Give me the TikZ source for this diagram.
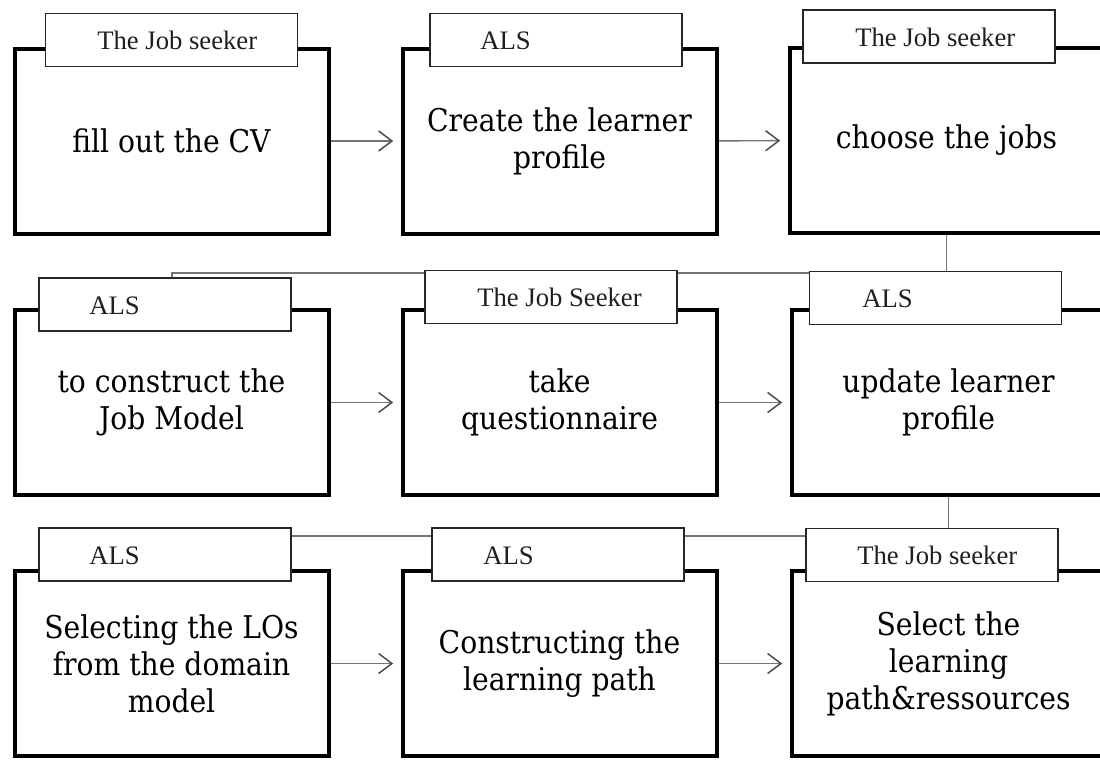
\documentclass[tikz,border=0pt]{standalone}
\usepackage{fontspec}
\setmainfont{Liberation Serif}
\newfontfamily\bodyfont{DejaVu Serif Condensed}
\usetikzlibrary{arrows.meta,calc,backgrounds}

\tikzset{
  stepbox/.style={draw=black, line width=3pt, rectangle,
    minimum width=235.5pt, minimum height=138.75pt, inner sep=0pt,
    align=center, text=black,
    font=\bodyfont\fontsize{23.5pt}{27.75pt}\selectfont},
  roletab/.style={draw=black!85, line width=1.1pt, fill=white, rectangle,
    minimum width=189pt, minimum height=39.75pt, inner sep=0pt},
  roletext/.style={anchor=base west, inner sep=0pt, text=black!88,
    font=\fontsize{20pt}{24pt}\selectfont},
  link/.style={draw=black!55, line width=1.1pt},
  flow/.style={link, -{Straight Barb[length=10pt,width=15pt,line width=1.1pt,color=black!70]},
    shorten >=5.5pt},
}

\begin{document}
\begin{tikzpicture}[x=0.75pt,y=-0.75pt]
\useasboundingbox (0,0) rectangle (1100,760);
\clip (0,0) rectangle (1100,760);

% process steps
\node[stepbox] (b1) at (171.5,141)   {fill out the CV};
\node[stepbox] (b2) at (559.5,141)   {Create the learner\\profile};
\node[stepbox] (b3) at (946.5,140.5) {choose the jobs};
\node[stepbox] (b4) at (171.5,402.5) {to construct the\\Job Model};
\node[stepbox] (b5) at (559.5,402.5) {take\\questionnaire};
\node[stepbox] (b6) at (948.5,402.5) {update learner\\profile};
\node[stepbox] (b7) at (171.5,663.5) {Selecting the LOs\\from the domain\\model};
\node[stepbox] (b8) at (559.5,663.5) {Constructing the\\learning path};
\node[stepbox] (b9) at (948.5,663.5) {Select the\\learning\\path\&ressources};

% actor tabs
\node[roletab] (t1) at (171.5,40)  {};
\node[roletab] (t2) at (556,40)    {};
\node[roletab] (t3) at (929,36.5)  {};
\node[roletab] (t4) at (165,304.5) {};
\node[roletab] (t5) at (551,297)   {};
\node[roletab] (t6) at (935.5,298) {};
\node[roletab] (t7) at (165,554.5) {};
\node[roletab] (t8) at (558,554.5) {};
\node[roletab] (t9) at (932,555)   {};

\node[roletext] (r1) at (97,49.5)   {The Job seeker};
\node[roletext] (r2) at (480,49.5)  {ALS};
\node[roletext] (r3) at (855,46)    {The Job seeker};
\node[roletext] (r4) at (89,314)    {ALS};
\node[roletext] (r5) at (477,306.5) {The Job Seeker};
\node[roletext] (r6) at (862,307.5) {ALS};
\node[roletext] (r7) at (89,564)    {ALS};
\node[roletext] (r8) at (483,564)   {ALS};
\node[roletext] (r9) at (857,564.5) {The Job seeker};

% connectors
\begin{scope}[on background layer]
  \draw[flow] (b1) -- (b2);
  \draw[flow] (b2) -- (b3);
  \draw[flow] (b4) -- (b5);
  \draw[flow] (b5) -- (b6);
  \draw[flow] (b7) -- (b8);
  \draw[flow] (b8) -- (b9);
  \draw[link] (b3.south) -- ++(0,38) -| ([xshift=5.25pt]t4.north);
  \draw[link] (b6.south) -- ++(0,39) -| (t7.center);
\end{scope}
\end{tikzpicture}
\end{document}
